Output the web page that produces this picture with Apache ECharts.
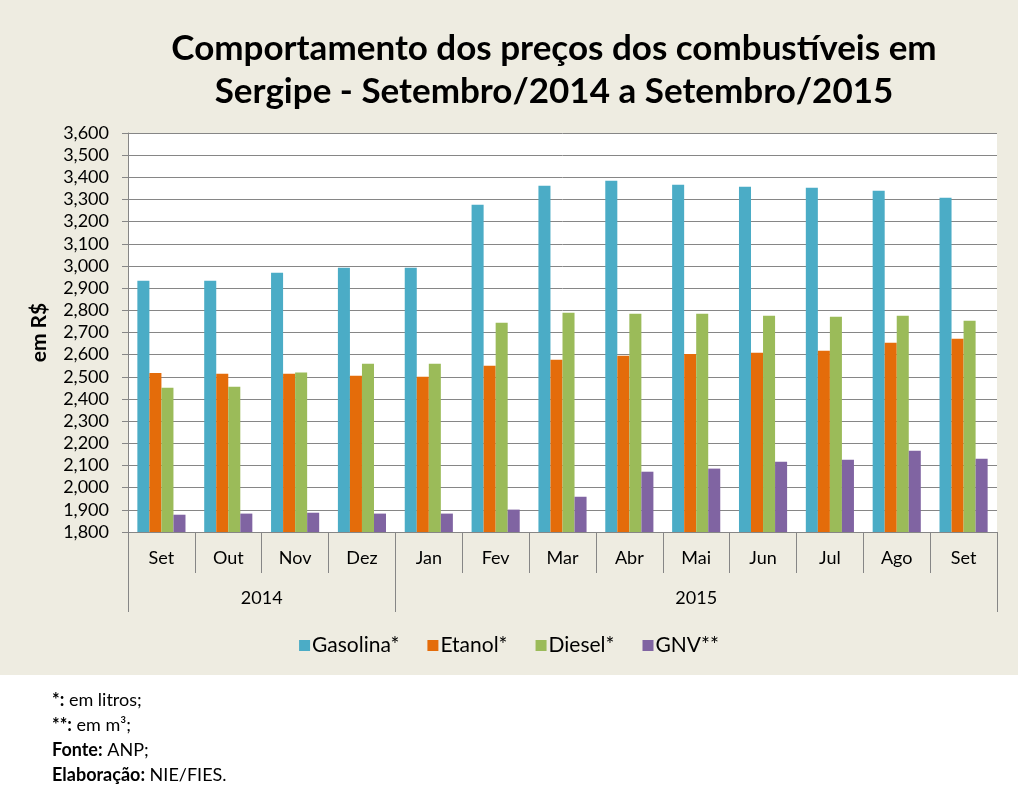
<!DOCTYPE html>
<html>
<head>
<meta charset="utf-8">
<script src="https://cdn.jsdelivr.net/npm/echarts@6/dist/echarts.min.js"></script>
<style>
html,body{margin:0;padding:0;background:#fff;}
#main{width:1018px;height:801px;}
</style>
</head>
<body>
<div id="main"></div>
<script>
var months = ['Set','Out','Nov','Dez','Jan','Fev','Mar','Abr','Mai','Jun','Jul','Ago','Set'];
var years = ['2014','2015'];
var yearSpans = [4, 9];
var gasolina = [2933,2933,2970,2992,2992,3276,3362,3385,3367,3358,3353,3339,3308];
var etanol   = [2517,2514,2514,2505,2500,2550,2577,2595,2603,2609,2618,2654,2672];
var diesel   = [2451,2455,2519,2559,2559,2744,2789,2785,2785,2776,2771,2776,2753];
var gnv      = [1878,1883,1887,1883,1883,1901,1959,2072,2086,2117,2126,2167,2131];
var seriesNames = ['Gasolina*','Etanol*','Diesel*','GNV**'];
var colors = ['#4BACC6','#E46C0A','#9BBB59','#8064A2'];

var font = 'Lato, "Open Sans", sans-serif';
var gridColor = '#868686';

// year label positions: middle of each span, boundaries between spans
var yearBounds = [0], yearMids = [], acc = 0;
yearSpans.forEach(function(n){ yearMids.push(acc + n/2); acc += n; yearBounds.push(acc); });
var monthBounds = months.map(function(m, i){ return i; }).concat([months.length]);

function fmt(v){
    var s = String(Math.round(v));
    return s.replace(/\B(?=(\d{3})+(?!\d))/g, ',');
}

var ele = document.getElementById('main');
var ins = echarts.init(ele);

var option = {
    backgroundColor: '#ffffff',
    animation: false,
    color: colors,
    textStyle: {fontFamily: font},
    title: {
        text: 'Comportamento dos preços dos combustíveis em\nSergipe - Setembro/2014 a Setembro/2015',
        left: 549, top: 22, textAlign: 'center',
        textStyle: {fontFamily: font, fontWeight: 'bold', fontSize: 35, lineHeight: 43, color: '#000'}
    },
    graphic: [
        {type: 'rect', z: -10, silent: true, shape: {x: 0, y: 0, width: 1018, height: 675}, style: {fill: '#EEECE1'}},
        {type: 'text', left: 52, top: 688, style: {
            text: '{b|*:} em litros;\n{b|**:} em m³;\n{b|Fonte:} ANP;\n{b|Elaboração:} NIE/FIES.',
            font: '18px ' + font, fill: '#000', lineHeight: 25,
            rich: {b: {fontWeight: 'bold', fontSize: 18, fontFamily: font}}
        }}
    ],
    legend: {
        data: seriesNames,
        top: 630, left: 'center',
        itemWidth: 11, itemHeight: 11, itemGap: 28,
        icon: 'rect',
        textStyle: {fontFamily: font, fontSize: 21, color: '#000', padding: [0,0,0,-3]}
    },
    grid: {
        left: 128, right: 21, top: 133, bottom: 269,
        show: true, backgroundColor: '#ffffff', borderWidth: 0
    },
    xAxis: [{
        type: 'category', data: months, position: 'bottom',
        axisLine: {lineStyle: {color: gridColor}},
        axisTick: {show: false},
        axisLabel: {margin: 17, fontSize: 18, color: '#000', fontFamily: font, interval: 0}
    }, {
        // separators between months
        type: 'value', min: 0, max: months.length, position: 'bottom', offset: 0,
        axisLine: {show: false},
        splitLine: {show: false},
        axisTick: {show: true, length: 41, customValues: monthBounds, lineStyle: {color: gridColor}},
        axisLabel: {show: false}
    }, {
        type: 'value', min: 0, max: months.length, position: 'bottom', offset: 41,
        axisLine: {show: false},
        splitLine: {show: false},
        axisTick: {show: true, length: 39, customValues: yearBounds, lineStyle: {color: gridColor}},
        axisLabel: {show: true, margin: 16, fontSize: 18, color: '#000', fontFamily: font,
            customValues: yearMids,
            formatter: function(v){ var i = yearMids.indexOf(v); return i >= 0 ? years[i] : ''; }}
    }],
    yAxis: {
        type: 'value', min: 1800, max: 3600, interval: 100,
        name: 'em R$', nameLocation: 'middle', nameGap: 78, nameRotate: 90,
        nameTextStyle: {fontFamily: font, fontWeight: 'bold', fontSize: 21, color: '#000'},
        axisLine: {show: true, lineStyle: {color: gridColor}},
        axisTick: {show: true, length: 6, lineStyle: {color: gridColor}},
        axisLabel: {fontSize: 18, color: '#000', margin: 19, fontFamily: font, formatter: fmt},
        splitLine: {lineStyle: {color: gridColor, width: 1}}
    },
    series: [gasolina, etanol, diesel, gnv].map(function(d, i){
        return {
            name: seriesNames[i], type: 'bar', data: d,
            xAxisIndex: 0, barGap: '0%', barCategoryGap: '28%'
        };
    })
};

ins.setOption(option);
</script>
</body>
</html>
